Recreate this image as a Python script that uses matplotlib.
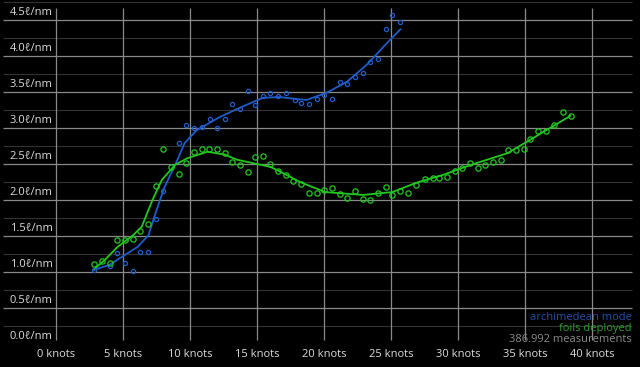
import numpy as np
import matplotlib
matplotlib.use("Agg")
from matplotlib import pyplot as plt

# speed (knots) vs consumption (litres per nautical mile)
foil_x = [2.84, 3.4, 4.0, 4.55, 5.15, 5.75, 6.27, 6.87, 7.46, 7.99, 8.58, 9.18, 9.7, 10.3,
          10.9, 11.4, 12.0, 12.6, 13.1, 13.7, 14.3, 14.85, 15.45, 16.0, 16.6, 17.2, 17.7,
          18.3, 18.9, 19.5, 20.0, 20.6, 21.2, 21.7, 22.3, 22.9, 23.4, 24.0, 24.6, 25.1,
          25.7, 26.3, 26.9, 27.5, 28.1, 28.6, 29.2, 29.8, 30.3, 30.9, 31.5, 32.0, 32.6,
          33.2, 33.7, 34.3, 34.9, 35.4, 36.0, 36.6, 37.2, 37.8, 38.4]
foil_y = [1.11, 1.15, 1.12, 1.44, 1.44, 1.46, 1.57, 1.67, 2.19, 2.71, 2.46, 2.36, 2.51, 2.66,
          2.71, 2.71, 2.71, 2.65, 2.53, 2.49, 2.39, 2.60, 2.61, 2.50, 2.40, 2.35, 2.27,
          2.22, 2.10, 2.10, 2.14, 2.17, 2.08, 2.03, 2.13, 2.02, 2.00, 2.10, 2.18, 2.07,
          2.12, 2.10, 2.21, 2.29, 2.31, 2.31, 2.32, 2.40, 2.45, 2.52, 2.44, 2.48, 2.53,
          2.56, 2.69, 2.69, 2.71, 2.85, 2.96, 2.96, 3.04, 3.22, 3.17]

arch_x = [2.84, 4.0, 4.55, 5.15, 5.75, 6.27, 6.87, 7.46, 7.99, 9.18, 9.7, 10.3, 10.9, 11.5,
          12.0, 12.6, 13.1, 13.7, 14.3, 14.85, 15.45, 16.0, 16.6, 17.2, 17.8, 18.3, 18.9,
          19.5, 20.0, 20.6, 21.2, 21.7, 22.3, 22.9, 23.4, 24.0, 24.6, 25.1, 25.7]
arch_y = [1.03, 1.08, 1.26, 1.12, 1.01, 1.28, 1.28, 1.74, 2.13, 2.79, 3.04, 3.00, 3.02, 3.12,
          3.00, 3.12, 3.33, 3.26, 3.51, 3.32, 3.44, 3.48, 3.44, 3.48, 3.39, 3.35, 3.33,
          3.40, 3.46, 3.40, 3.64, 3.61, 3.71, 3.76, 3.92, 3.96, 4.37, 4.57, 4.47]

# smoothed trend lines
arch_fit_x = [2.84, 4.0, 5.0, 6.1, 6.9, 7.5, 8.1, 8.9, 9.6, 10.5, 12.2, 13.7, 15.45, 16.7,
              18.0, 18.7, 20.2, 21.7, 23.2, 24.7, 25.7]
arch_fit_y = [1.03, 1.10, 1.22, 1.35, 1.51, 1.86, 2.18, 2.49, 2.79, 2.97, 3.15, 3.28, 3.42,
              3.43, 3.40, 3.39, 3.49, 3.64, 3.88, 4.18, 4.37]
foil_fit_x = [2.84, 3.66, 4.6, 5.75, 6.4, 7.2, 7.9, 8.9, 9.8, 11.3, 12.6, 13.5, 15.0, 16.0,
              17.2, 18.2, 20.1, 22.9, 25.1, 26.9, 28.9, 31.0, 33.7, 35.6, 38.4]
foil_fit_y = [1.04, 1.17, 1.35, 1.51, 1.63, 2.00, 2.28, 2.49, 2.58, 2.67, 2.63, 2.56, 2.50,
              2.46, 2.35, 2.25, 2.11, 2.07, 2.11, 2.24, 2.35, 2.49, 2.65, 2.86, 3.17]

x_ticks = [0, 5, 10, 15, 20, 25, 30, 35, 40]
y_ticks = [0.0, 0.5, 1.0, 1.5, 2.0, 2.5, 3.0, 3.5, 4.0, 4.5]
legend = ["archimedean mode", "foils deployed", "386.992 measurements"]

BLUE = "#1f5ccc"
GREEN = "#22c81e"

plt.rcParams['font.family'] = ['Open Sans', 'DejaVu Sans']
fig = plt.figure(figsize=(6.4, 3.67), dpi=100, facecolor="black")
ax = fig.add_axes([0, 0, 1, 1])
ax.set_facecolor("black")
ax.set_xlim(-56 / 13.4, (640 - 56) / 13.4)
ax.set_ylim((344 - 367) / 72, 344 / 72)
ax.axis("off")

# grid
minor = [v + 0.25 for v in y_ticks]
ax.hlines(minor, -3.96, 43.0, color="#333333", lw=0.8, zorder=1)
ax.hlines(y_ticks[1:], -3.96, 43.0, color="#8a8a8a", lw=0.9, zorder=1)
ax.vlines(x_ticks, 0.056, 4.667, color="#8a8a8a", lw=0.9, zorder=1)

for v in y_ticks:
    ax.text(-0.25, v + 0.03, "%.1fℓ/nm" % v, color="#dddddd", fontsize=8,
            ha="right", va="bottom")
for k in x_ticks:
    ax.text(k, -0.15, "%d knots" % k, color="#dddddd", fontsize=8,
            ha="center", va="center")

ax.plot(arch_fit_x, arch_fit_y, color=BLUE, lw=1.3, zorder=3)
ax.plot(foil_fit_x, foil_fit_y, color=GREEN, lw=1.3, zorder=3)
ax.plot(arch_x, arch_y, "o", mfc="none", mec=BLUE, ms=3, mew=0.9, zorder=4)
ax.plot(foil_x, foil_y, "o", mfc="none", mec=GREEN, ms=3.8, mew=0.9, zorder=4)

for i, (txt, col) in enumerate(zip(legend, ["#2150a8", "#2a9e26", "#8c8c8c"])):
    fig.text(632 / 640, 1 - (317 + 11 * i) / 367, txt, color=col, fontsize=8,
             ha="right", va="center")

fig.savefig("out.png", dpi=100, facecolor="black")
